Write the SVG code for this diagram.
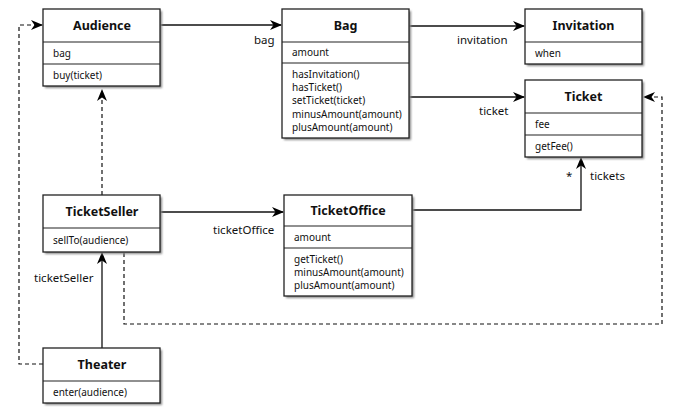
<svg xmlns="http://www.w3.org/2000/svg" width="690" height="413" viewBox="0 0 690 413">
<defs>
<marker id="arr" viewBox="0 0 12 10" refX="11" refY="5" markerWidth="12" markerHeight="10" markerUnits="userSpaceOnUse" orient="auto">
<path d="M0,0 L12,5 L0,10 L3.5,5 Z" fill="#000"/>
</marker>
<filter id="sh" x="-10%" y="-10%" width="130%" height="130%">
<feGaussianBlur stdDeviation="1"/>
</filter>
</defs>
<style>
.box{fill:#fff;stroke:#222;stroke-width:1.3}
.shadow{fill:#888;filter:url(#sh)}
.div{stroke:#222;stroke-width:1.2}
.title{font-family:"Noto Sans",sans-serif;font-weight:bold;font-size:12.5px;text-anchor:middle;fill:#111}
.mem{font-family:"Noto Sans",sans-serif;font-size:10px;fill:#111}
.lbl{font-family:"Noto Sans",sans-serif;font-size:11.5px;fill:#111}
.solid{fill:none;stroke:#111;stroke-width:1.3}
.dash{fill:none;stroke:#111;stroke-width:1.2;stroke-dasharray:4,3}
</style>
<rect width="690" height="413" fill="#fff"/>

<g id="connectors">
<path class="solid" d="M160,25 H281" marker-end="url(#arr)"/>
<text class="lbl" x="254" y="44">bag</text>
<path class="solid" d="M409,26 H524" marker-end="url(#arr)"/>
<text class="lbl" x="457" y="44">invitation</text>
<path class="solid" d="M409,97 H524" marker-end="url(#arr)"/>
<text class="lbl" x="479" y="115">ticket</text>
<path class="solid" d="M160,212 H283" marker-end="url(#arr)"/>
<text class="lbl" x="213" y="234">ticketOffice</text>
<path class="solid" d="M412,210 H581 V158" marker-end="url(#arr)"/>
<text class="lbl" x="566" y="180">*</text>
<text class="lbl" x="590" y="180">tickets</text>
<path class="solid" d="M102,348 V253" marker-end="url(#arr)"/>
<text class="lbl" x="34" y="282">ticketSeller</text>
<path class="dash" d="M102,195 V90" marker-end="url(#arr)"/>
<path class="dash" d="M43,364 H19 V25 H42" marker-end="url(#arr)"/>
<path class="dash" d="M124,253 V324 H662 V97 H644" marker-end="url(#arr)"/>
</g>

<g id="Audience">
<rect class="shadow" x="45" y="11" width="117" height="77"/>
<rect class="box" x="43" y="9" width="117" height="77"/>
<line class="div" x1="43" y1="42" x2="160" y2="42"/>
<line class="div" x1="43" y1="64" x2="160" y2="64"/>
<text class="title" x="102" y="30">Audience</text>
<text class="mem" x="53" y="57">bag</text>
<text class="mem" x="53" y="79">buy(ticket)</text>
</g>

<g id="Bag">
<rect class="shadow" x="284" y="11" width="127" height="129"/>
<rect class="box" x="282" y="9" width="127" height="129"/>
<line class="div" x1="282" y1="42" x2="409" y2="42"/>
<line class="div" x1="282" y1="63" x2="409" y2="63"/>
<text class="title" x="345.5" y="30">Bag</text>
<text class="mem" x="292" y="56">amount</text>
<text class="mem" x="292" y="77.5">hasInvitation()</text>
<text class="mem" x="292" y="90.5">hasTicket()</text>
<text class="mem" x="292" y="104">setTicket(ticket)</text>
<text class="mem" x="292" y="117.5">minusAmount(amount)</text>
<text class="mem" x="292" y="130.5">plusAmount(amount)</text>
</g>

<g id="Invitation">
<rect class="shadow" x="527" y="11" width="117" height="55"/>
<rect class="box" x="525" y="9" width="117" height="55"/>
<line class="div" x1="525" y1="42" x2="642" y2="42"/>
<text class="title" x="583.5" y="30">Invitation</text>
<text class="mem" x="535" y="57">when</text>
</g>

<g id="Ticket">
<rect class="shadow" x="527" y="82" width="117" height="77"/>
<rect class="box" x="525" y="80" width="117" height="77"/>
<line class="div" x1="525" y1="113" x2="642" y2="113"/>
<line class="div" x1="525" y1="135" x2="642" y2="135"/>
<text class="title" x="583.5" y="101">Ticket</text>
<text class="mem" x="535" y="128">fee</text>
<text class="mem" x="535" y="150">getFee()</text>
</g>

<g id="TicketSeller">
<rect class="shadow" x="45" y="197" width="117" height="57"/>
<rect class="box" x="43" y="195" width="117" height="57"/>
<line class="div" x1="43" y1="228" x2="160" y2="228"/>
<text class="title" x="102" y="216">TicketSeller</text>
<text class="mem" x="53" y="244">sellTo(audience)</text>
</g>

<g id="TicketOffice">
<rect class="shadow" x="286" y="197" width="128" height="101"/>
<rect class="box" x="284" y="195" width="128" height="101"/>
<line class="div" x1="284" y1="226" x2="412" y2="226"/>
<line class="div" x1="284" y1="248" x2="412" y2="248"/>
<text class="title" x="348" y="215">TicketOffice</text>
<text class="mem" x="294" y="241">amount</text>
<text class="mem" x="294" y="262.5">getTicket()</text>
<text class="mem" x="294" y="275.5">minusAmount(amount)</text>
<text class="mem" x="294" y="288.5">plusAmount(amount)</text>
</g>

<g id="Theater">
<rect class="shadow" x="45" y="350" width="117" height="55"/>
<rect class="box" x="43" y="348" width="117" height="55"/>
<line class="div" x1="43" y1="381" x2="160" y2="381"/>
<text class="title" x="102" y="369">Theater</text>
<text class="mem" x="53" y="396">enter(audience)</text>
</g>
</svg>
